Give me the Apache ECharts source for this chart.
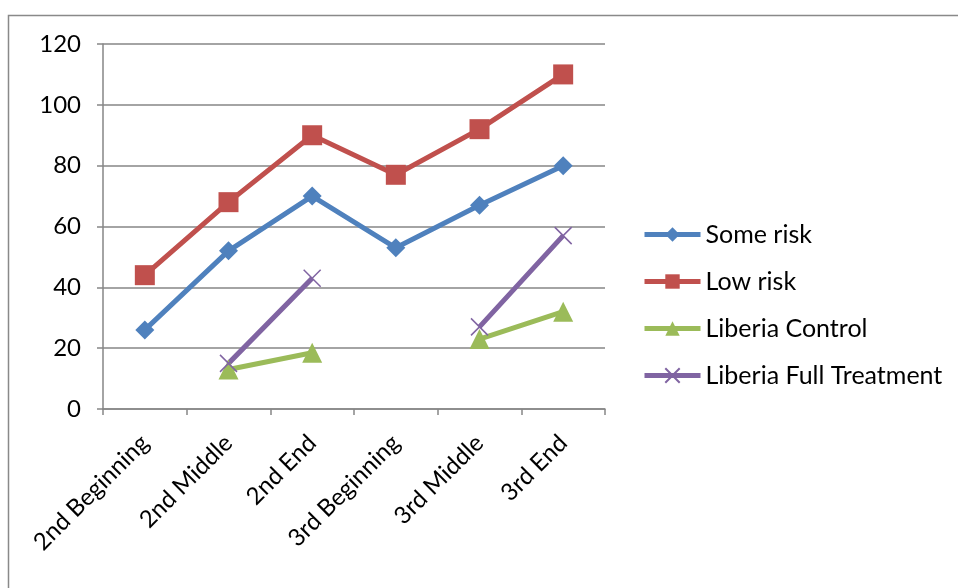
<!DOCTYPE html>
<html><head><meta charset="utf-8">
<script src="https://cdn.jsdelivr.net/npm/echarts@6/dist/echarts.min.js"></script>
<style>html,body{margin:0;padding:0;background:#fff}#c{width:958px;height:588px}</style>
</head><body><div id="c"></div>
<script>
const categories = ['2nd Beginning','2nd Middle','2nd End','3rd Beginning','3rd Middle','3rd End'];
const someRisk = [26, 52, 70, 53, 67, 80];
const lowRisk = [44, 68, 90, 77, 92, 110];
const liberiaControl = [null, 13, 18.5, null, 23, 32];
const liberiaFull = [null, 15, 43, null, 27, 57];
const yTicks = {min: 0, max: 120, interval: 20};

const FONT = 'Lato';
const chart = echarts.init(document.getElementById('c'));
const crossPath = 'path://M0,0L10,10M10,0L0,10';
function mk(name, data, color, symbol, size, extra) {
  return Object.assign({
    name, type: 'line', data, connectNulls: false,
    symbol, symbolSize: size,
    lineStyle: {color, width: 5},
    itemStyle: {color, borderColor: color, borderWidth: 0},
    emphasis: {disabled: true},
    animation: false
  }, extra || {});
}
chart.setOption({
  animation: false,
  graphic: [{type: 'rect', shape: {x: 8.5, y: 15.5, width: 1000, height: 1000},
    style: {fill: 'none', stroke: '#898989', lineWidth: 1.5}, z: -1}],
  grid: {left: 103, right: 353, top: 44, bottom: 179},
  legend: {
    orient: 'vertical', left: 637, top: 217, itemWidth: 56, itemHeight: 18, itemGap: 22,
    lineStyle: {width: 5},
    textStyle: {fontFamily: FONT, fontSize: 25, color: '#000'},
    data: ['Some risk','Low risk','Liberia Control','Liberia Full Treatment']
  },
  xAxis: {
    type: 'category', data: categories, boundaryGap: true,
    axisLine: {lineStyle: {color: '#868686', width: 1.5}},
    axisTick: {show: true, length: 6, alignWithLabel: false, lineStyle: {color: '#868686', width: 1.5}},
    axisLabel: {rotate: 45, margin: 30, interval: 0, fontFamily: FONT, fontSize: 24, color: '#000'},
    splitLine: {show: false}
  },
  yAxis: {
    type: 'value', min: yTicks.min, max: yTicks.max, interval: yTicks.interval,
    axisLine: {show: true, lineStyle: {color: '#868686', width: 1.5}},
    axisTick: {show: true, length: 6, lineStyle: {color: '#868686', width: 1.5}},
    axisLabel: {margin: 22, fontFamily: FONT, fontSize: 24, color: '#000'},
    splitLine: {lineStyle: {color: '#868686', width: 1.5}}
  },
  series: [
    mk('Some risk', someRisk, '#4F81BD', 'diamond', 19),
    mk('Low risk', lowRisk, '#C0504D', 'rect', 20),
    mk('Liberia Control', liberiaControl, '#9BBB59', 'triangle', 20),
    mk('Liberia Full Treatment', liberiaFull, '#8064A2', crossPath, 17,
      {itemStyle: {color: '#8064A2', borderColor: '#8064A2', borderWidth: 1.5}})
  ]
});
</script></body></html>
